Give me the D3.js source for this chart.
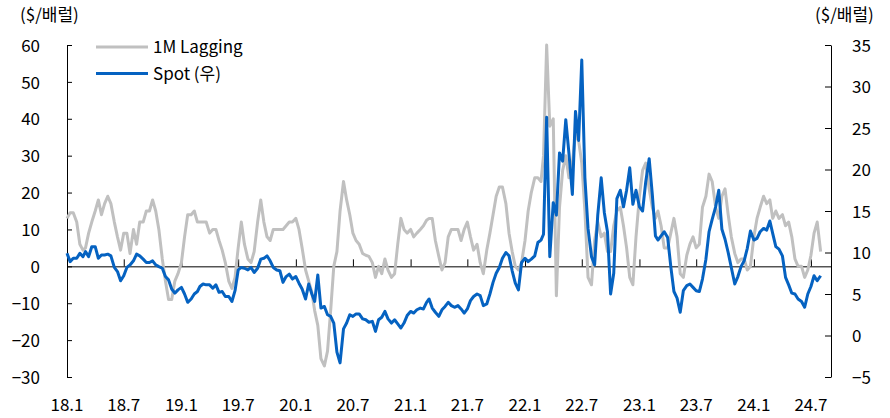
<!DOCTYPE html>
<html><head><meta charset="utf-8">
<script src="https://cdn.jsdelivr.net/npm/d3@7"></script>
<style>
body{margin:0;background:#fff;}
text{font-family:"Noto Sans CJK KR","Noto Sans",sans-serif;font-size:17px;fill:#000;}
</style></head><body>
<svg id="chart" width="890" height="418"></svg>
<script>
// ---- data ----
const seriesNames = ["1M Lagging", "Spot (우)"];
const leftUnit = "($/배럴)";
const rightUnit = "($/배럴)";
const xTickLabels = ["18.1","18.7","19.1","19.7","20.1","20.7","21.1","21.7","22.1","22.7","23.1","23.7","24.1","24.7"];
const leftTicks = [60,50,40,30,20,10,0,-10,-20,-30];
const rightTicks = [35,30,25,20,15,10,5,0,-5];
// sampling: 3 readings per month (1st, 11th, 21st) starting Jan 2018
const startYear = 2018;
const samplesPerMonth = 3;

// 1M Lagging (left axis)
const lagging = [
  // 2018
  13,14.5,14.5, 12,6,4.4, 5,9,12, 15,18,14, 17,19,17, 12,8,4.4, 9,9,3.5, 10,6,12, 12,15,15, 18,15,10, 2,-4,-9, -9,-4,-2,
  // 2019
  1,8,14, 14,15,12, 12,12,12, 9,10,10, 7,4.4,1, -4,-6,-3, 5,12,6, 2,1,4, 12,18,12, 8,7,10, 10,10,10, 11,12,12,
  // 2020
  13,10,5, -1,-4,-7, -12,-16,-25, -27,-23,-12, 0,4,15, 23,18,14, 9,7,6, 3.5,3,2.7, 1,-3,0, -2,2,-1, -3,-2,6, 13,10,9,
  // 2021
  10,8,9, 10,11,12.5, 13,13,7, 2.7,-1,1, 8,10,10, 10,7,10, 12,8,4.4, 6,1,-2, 4.4,9,14, 19,21.5,21.5, 17,9,4, 0,-1,1,
  // 2022
  7,15,20, 24,24,23, 30,60,38, 40,-8,16, 26,30,24, 28,36,34, 28,15,-3, -5,7,12, 8,9,4, 4,11,15, 16,11,5, -3,-5,8,
  // 2023
  19,26,28, 21,16,13, 15,11,5, 5,9,13, 8,-2,-3, 3,6,8, 5,6,16, 19,25,23, 16,13,19, 21,14,8, 3.5,1,2, 2,-1,0,
  // 2024
  8,13,16, 19,17,18, 13,15,13, 14,11,12, 8,2,0, 0,-3,-1, 3,9,12, 4
];

// Spot (right axis)
const spot = [
  // 2018
  9.9,8.9,9.3, 9.3,9.9,9.5, 10.1,9.5,10.7, 10.7,9.3,9.7, 9.7,9.8,9.6, 8.2,7.7,6.6, 7.2,8.2,8.5, 9.0,9.8,9.6, 9.2,8.8,8.8, 9.0,8.5,8.3, 8.1,7.1,6.7, 5.6,5.1,5.5,
  // 2019
  5.8,5.0,4.0, 4.4,5.0,5.3, 5.9,6.2,6.1, 6.1,5.7,6.1, 5.2,5.3,4.7, 4.7,4.1,5.4, 7.9,8.2,8.1, 7.9,8.2,7.6, 8.1,9.2,9.3, 9.6,9.0,8.2, 7.9,7.8,6.4, 7.1,7.4,6.8,
  // 2020
  7.1,6.3,5.6, 4.4,6.2,5.0, 4.1,7.3,3.3, 3.5,2.5,2.3, 1.5,-2.0,-3.3, 0.8,1.5,2.5, 2.3,2.6,2.6, 2.0,1.9,1.6, 1.7,0.5,1.9, 2.2,2.9,2.0, 1.5,1.9,1.4, 0.9,1.5,2.4,
  // 2021
  2.9,2.7,3.1, 3.3,3.2,4.0, 4.4,3.3,2.8, 2.3,3.1,3.5, 4.0,3.6,3.4, 3.6,3.2,2.7, 3.2,4.2,4.7, 5.0,4.8,3.6, 3.8,5.0,6.4, 7.5,8.2,9.3, 10.0,9.6,7.8, 6.3,5.5,8.8,
  // 2022
  9.3,8.9,9.2, 9.6,11.2,11.5, 12.2,26.3,9.5, 16.0,14.5,22.0, 21.0,26.0,22.0, 17.0,27.0,23.5, 33.2,19.0,12.9, 9.5,8.5,14.5, 19.0,14.8,12.5, 5.0,7.5,16.5, 17.5,15.5,17.5, 20.2,15.8,17.5,
  // 2023
  15.5,15.0,18.5, 21.3,17.0,12.0, 11.5,12.0,12.5, 11.8,8.3,5.3, 4.5,2.8,5.4, 6.0,6.2,5.8, 5.4,5.3,6.8, 9.2,12.5,14.0, 15.5,17.5,12.8, 11.6,10.0,8.2, 6.2,7.1,8.3, 9.0,10.5,12.6,
  // 2024
  11.5,11.7,12.5, 12.9,12.7,13.8, 12.3,10.7,10.4, 9.6,7.0,6.1, 5.1,5.0,4.4, 4.1,3.4,5.0, 5.9,7.2,6.6, 7.2
];

// ---- build ----
const dates = lagging.map((_, i) => new Date(startYear, Math.floor(i / samplesPerMonth), 1 + 10 * (i % samplesPerMonth)));
const xTickDates = xTickLabels.map(s => { const [yy, mm] = s.split("."); return new Date(2000 + +yy, +mm - 1, 1); });

const svg = d3.select("#chart");
const x = d3.scaleTime().domain([new Date(2018, 0, 1), new Date(2024, 8, 3)]).range([67, 831]);
const yL = d3.scaleLinear().domain([-30, 60]).range([377, 45]);
const yR = d3.scaleLinear().domain([-5, 35]).range([377, 45]);

// left axis
const gL = svg.append("g").attr("transform", "translate(67,0)")
  .call(d3.axisLeft(yL).tickValues(leftTicks).tickSize(-5).tickSizeOuter(0).tickPadding(27));
// right axis
const gR = svg.append("g").attr("transform", "translate(831,0)")
  .call(d3.axisRight(yR).tickValues(rightTicks).tickSize(-6).tickSizeOuter(0).tickPadding(21));
[gL, gR].forEach(g => {
  g.select(".domain").attr("stroke", "#000").attr("stroke-width", 1);
  g.selectAll(".tick line").attr("stroke", "#000");
  g.selectAll("text").attr("font-size", 17).attr("font-family", null).attr("dy", "0.36em");
  g.attr("font-family", null).attr("font-size", null);
});

// zero line with x ticks
const gX = svg.append("g").attr("transform", `translate(0,${yL(0)})`)
  .call(d3.axisBottom(x).tickValues(xTickDates).tickSize(-7).tickSizeOuter(0).tickFormat(""));
gX.select(".domain").attr("stroke", "#000");
gX.selectAll(".tick line").attr("stroke", "#000");

// x labels
svg.append("g").selectAll("text").data(xTickDates).join("text")
  .attr("x", d => x(d)).attr("y", 411).attr("text-anchor", "middle")
  .text((d, i) => xTickLabels[i]);

// lines
const lineL = d3.line().x((d, i) => x(dates[i])).y(d => yL(d));
const lineR = d3.line().x((d, i) => x(dates[i])).y(d => yR(d));
svg.append("path").datum(lagging).attr("d", lineL)
  .attr("fill", "none").attr("stroke", "#c0c0c0").attr("stroke-width", 3).attr("stroke-linejoin", "round");
svg.append("path").datum(spot).attr("d", lineR)
  .attr("fill", "none").attr("stroke", "#0562c1").attr("stroke-width", 3).attr("stroke-linejoin", "round");

// units
svg.append("text").attr("x", 20).attr("y", 21).text(leftUnit);
svg.append("text").attr("x", 815).attr("y", 21).text(rightUnit);

// legend
const legendColors = ["#c0c0c0", "#0562c1"];
const legend = svg.append("g").selectAll("g").data(seriesNames).join("g")
  .attr("transform", (d, i) => `translate(96,${47 + i * 26.5})`);
legend.append("line").attr("x1", 0).attr("x2", 52).attr("y1", 0).attr("y2", 0)
  .attr("stroke", (d, i) => legendColors[i]).attr("stroke-width", 3);
legend.append("text").attr("x", 57).attr("y", 0).attr("dy", "0.36em").text(d => d);
</script>
</body></html>
